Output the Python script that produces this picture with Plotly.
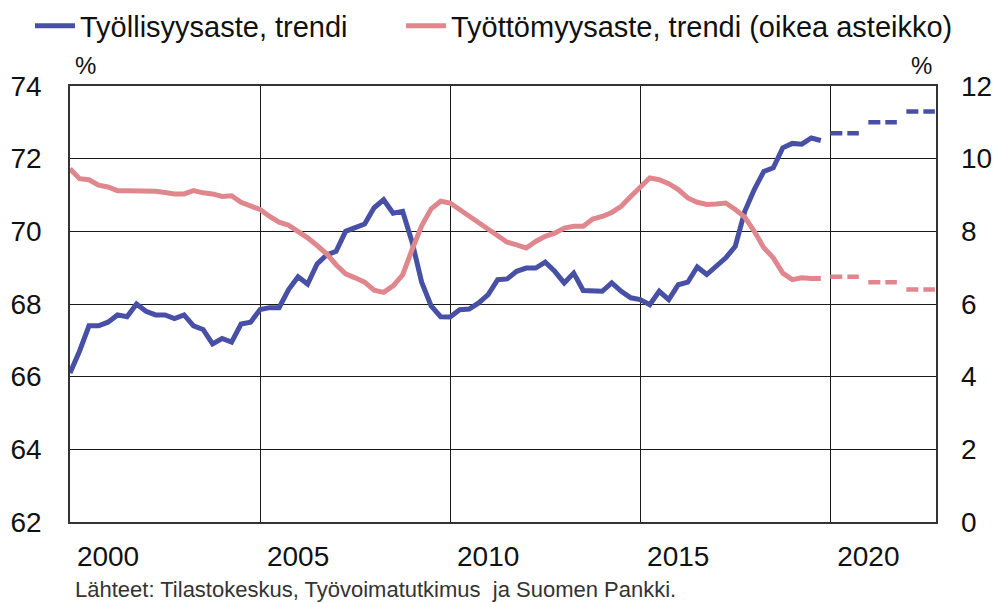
import plotly.graph_objects as go

# ---------------- data ----------------
start_year = 1999  # first quarter: 1999Q1
employment_rate = [
    66.1, 66.7, 67.4, 67.4, 67.5, 67.7, 67.65, 68.0, 67.8, 67.7,
    67.7, 67.6, 67.7, 67.4, 67.3, 66.9, 67.05, 66.95, 67.45, 67.5,
    67.85, 67.9, 67.9, 68.4, 68.75, 68.55, 69.1, 69.35, 69.45, 70.0,
    70.1, 70.2, 70.65, 70.87, 70.5, 70.55, 69.7, 68.6, 67.95, 67.65,
    67.64, 67.84, 67.86, 68.03, 68.26, 68.67, 68.69, 68.9, 68.99, 68.99,
    69.15, 68.9, 68.58, 68.85, 68.37, 68.35, 68.35, 68.58, 68.35, 68.17,
    68.12, 67.98, 68.35, 68.12, 68.53, 68.6, 69.02, 68.81, 69.04, 69.27,
    69.59, 70.55, 71.15, 71.65, 71.75, 72.3, 72.42, 72.4, 72.57, 72.5,
]
unemployment_rate = [
    9.72, 9.45, 9.42, 9.27, 9.22, 9.12, 9.12, 9.12, 9.12, 9.1,
    9.07, 9.03, 9.03, 9.12, 9.06, 9.03, 8.96, 8.98, 8.8, 8.71,
    8.6, 8.41, 8.25, 8.17, 8.0, 7.82, 7.61, 7.38, 7.08, 6.83,
    6.72, 6.6, 6.38, 6.32, 6.5, 6.8, 7.5, 8.15, 8.62, 8.83,
    8.78, 8.6, 8.41, 8.23, 8.05, 7.86, 7.7, 7.63, 7.54, 7.72,
    7.86, 7.95, 8.09, 8.14, 8.14, 8.34, 8.41, 8.52, 8.69, 8.96,
    9.2, 9.47, 9.42, 9.31, 9.15, 8.92, 8.8, 8.74, 8.75, 8.78,
    8.6, 8.39, 8.0, 7.55, 7.27, 6.85, 6.67, 6.72, 6.7, 6.7,
]
forecast_years = [2019, 2020, 2021]
employment_forecast = [72.7, 73.0, 73.3]
unemployment_forecast = [6.75, 6.6, 6.4]

x_tick_years = [2000, 2005, 2010, 2015, 2020]
x_tick_labels = ["2000", "2005", "2010", "2015", "2020"]
x_grid_years = [2004, 2009, 2014, 2019]
left_ticks = [62, 64, 66, 68, 70, 72, 74]
right_ticks = [0, 2, 4, 6, 8, 10, 12]

name_emp = "Työllisyysaste, trendi"
name_unemp = "Työttömyysaste, trendi (oikea asteikko)"
source_text = "Lähteet: Tilastokeskus, Työvoimatutkimus  ja Suomen Pankki."

# ---------------- derived ----------------
quarters = [start_year + i / 4 for i in range(len(employment_rate))]


def step_segments(years, values):
    xs, ys = [], []
    for yr, v in zip(years, values):
        xs += [yr, yr + 0.75, None]
        ys += [v, v, None]
    return xs, ys


fx_e, fy_e = step_segments(forecast_years, employment_forecast)
fx_u, fy_u = step_segments(forecast_years, unemployment_forecast)

BLUE = "#4750a5"
RED = "#df878d"
FONT = "Liberation Sans, Arial, sans-serif"

# page body has an 8px margin, so the figure is 8px smaller than the window
W, H = 994, 595

fig = go.Figure()
fig.add_trace(go.Scatter(x=quarters, y=employment_rate, mode="lines", name=name_emp,
                         line=dict(color=BLUE, width=5), yaxis="y", legend="legend"))
fig.add_trace(go.Scatter(x=quarters, y=unemployment_rate, mode="lines", name=name_unemp,
                         line=dict(color=RED, width=5), yaxis="y2", legend="legend2"))
fig.add_trace(go.Scatter(x=fx_e, y=fy_e, mode="lines", showlegend=False,
                         line=dict(color=BLUE, width=4.5, dash="12px,5px"), yaxis="y"))
fig.add_trace(go.Scatter(x=fx_u, y=fy_u, mode="lines", showlegend=False,
                         line=dict(color=RED, width=4.5, dash="12px,5px"), yaxis="y2"))
# invisible trace to activate the grid x-axis
fig.add_trace(go.Scatter(x=[start_year], y=[left_ticks[0]], mode="markers", showlegend=False,
                         marker=dict(opacity=0), xaxis="x2", yaxis="y", hoverinfo="skip"))

x_range = [1999, 2021.78]

legend_common = dict(orientation="h", xref="container", yref="container",
                     y=1 - 18 / H, xanchor="left", yanchor="middle",
                     font=dict(size=29, family=FONT, color="#111111"),
                     itemwidth=40, bgcolor="rgba(0,0,0,0)")

fig.update_layout(
    width=W, height=H,
    margin=dict(l=62, r=66, t=78, b=81, autoexpand=False),
    paper_bgcolor="white", plot_bgcolor="white",
    font=dict(family=FONT, color="#111111", size=28),
    showlegend=True,
    legend=dict(x=22 / W, **legend_common),
    legend2=dict(x=393 / W, **legend_common),
    xaxis=dict(range=x_range, tickvals=x_tick_years, ticktext=x_tick_labels,
               showgrid=False, zeroline=False, showline=True, linecolor="#333333",
               linewidth=1.5, mirror=True, ticks="", ticklabelstandoff=9,
               automargin=False, tickfont=dict(size=28)),
    xaxis2=dict(range=x_range, overlaying="x", tickvals=x_grid_years,
                showticklabels=False, showgrid=True, gridcolor="#1a1a1a",
                gridwidth=1.4, zeroline=False, showline=False, ticks="",
                automargin=False),
    yaxis=dict(range=[left_ticks[0], left_ticks[-1]], tickvals=left_ticks,
               showgrid=True, gridcolor="#1a1a1a", gridwidth=1.4, zeroline=False,
               showline=True, linecolor="#333333", linewidth=1.5, mirror=True,
               ticks="", ticklabelstandoff=21, automargin=False,
               tickfont=dict(size=28)),
    yaxis2=dict(range=[right_ticks[0], right_ticks[-1]], tickvals=right_ticks,
                overlaying="y", side="right", showgrid=False, zeroline=False,
                showline=False, ticks="", ticklabelstandoff=24, automargin=False,
                tickfont=dict(size=28)),
    annotations=[
        dict(text="%", xref="paper", yref="paper", x=0.0175, y=1.0, yshift=21,
             xanchor="center", yanchor="middle", showarrow=False,
             font=dict(size=24, family=FONT, color="#111111")),
        dict(text="%", xref="paper", yref="paper", x=0.983, y=1.0, yshift=21,
             xanchor="center", yanchor="middle", showarrow=False,
             font=dict(size=24, family=FONT, color="#111111")),
        dict(text=source_text, xref="paper", yref="paper", x=0.003, y=-0.154,
             xanchor="left", yanchor="middle", showarrow=False,
             font=dict(size=22, family=FONT, color="#333333")),
    ],
)

fig.write_html("out.html")
